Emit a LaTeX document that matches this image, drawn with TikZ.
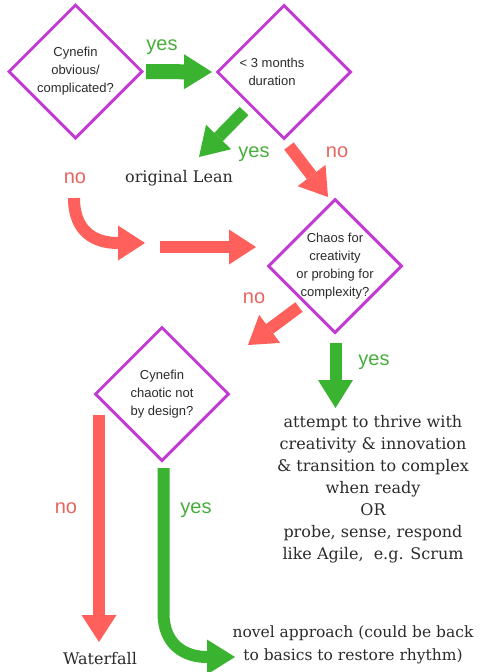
\documentclass[tikz,border=0pt]{standalone}
\usepackage{fontspec}
\setmainfont{DejaVu Serif}
\setsansfont{Liberation Sans}
\usetikzlibrary{arrows.meta,shapes.geometric}
\definecolor{cfpurple}{HTML}{C23BD2}
\definecolor{cfgreen}{HTML}{3AB430}
\definecolor{cfred}{HTML}{FF605B}
\definecolor{cfgreentxt}{HTML}{47AE3C}
\definecolor{cfredtxt}{HTML}{E8645E}
\definecolor{cfink}{HTML}{2B2B2B}

\begin{document}
\begin{tikzpicture}[x=1pt,y=-1pt,
    dia/.style={diamond,aspect=1,draw=cfpurple,line width=3pt,minimum width=134pt,minimum height=134pt,inner sep=0pt},
    qtxt/.style={align=center,inner sep=0pt,text=cfink,font=\sffamily\fontsize{13}{18}\selectfont},
    outc/.style={align=center,inner sep=0pt,text=cfink,font=\fontsize{16}{22}\selectfont},
    ylab/.style={anchor=base,inner sep=0pt,text=cfgreentxt,font=\sffamily\fontsize{20}{24}\selectfont},
    nlab/.style={anchor=base,inner sep=0pt,text=cfredtxt,font=\sffamily\fontsize{20}{24}\selectfont},
    garr/.style={cfgreen,line width=12pt,-{Triangle[length=28pt,width=35pt,line width=0pt]}},
    rarr/.style={cfred,line width=12pt,-{Triangle[length=27pt,width=35pt,line width=0pt]}}]
  \useasboundingbox[fill=white] (0,0) rectangle (480,672);

  % decisions
  \node[dia] (d1) at (75.5,71.5) {};
  \node[dia] (d2) at (284,72) {};
  \node[dia] (d3) at (335,266) {};
  \node[dia] (d4) at (162,394) {};
  \node[qtxt] (q1) at (d1) {Cynefin\\obvious/\\complicated?};
  \node[qtxt] (q2) at (272,72) {< 3 months\\duration};
  \node[qtxt] (q3) at (d3) {Chaos for\\creativity\\or probing for\\complexity?};
  \node[qtxt] (q4) at (d4) {Cynefin\\chaotic not\\by design?};

  % outcomes
  \node[outc,anchor=base] (lean) at (179,182) {original Lean};
  \node[outc,anchor=north] (thrive) at (373,415) {attempt to thrive with\\creativity \& innovation\\\& transition to complex\\when ready\\OR\\probe, sense, respond\\like Agile,\ \ e.g. Scrum};
  \node[outc,anchor=base] (water) at (100,664) {Waterfall};
  \node[outc,anchor=north,font=\fontsize{15.5}{23}\selectfont] (novel) at (353,626) {novel approach (could be back\\to basics to restore rhythm)};

  % arrow ends
  \coordinate (y2s) at (244,111);  \coordinate (y2e) at (199,157);
  \coordinate (n2s) at (289,146);  \coordinate (n2e) at (328,197);
  \coordinate (n1s) at (74,198);   \coordinate (n1e) at (145,243);
  \coordinate (n1bs) at (160,247); \coordinate (n1be) at (256,247);
  \coordinate (n3s) at (299,307);  \coordinate (n3e) at (248,345);
  \coordinate (y3s) at (335.5,343); \coordinate (y3e) at (335.5,408);
  \coordinate (n4s) at (99,415);   \coordinate (n4e) at (99,642);
  \coordinate (y4s) at (163.5,468); \coordinate (y4e) at (235,657);

  \draw[garr,line width=15pt,shorten <=2pt,shorten >=3.5pt] (d1.east) -- (d2.west);
  \draw[garr] (y2s) -- (y2e);
  \draw[rarr] (n2s) -- (n2e);
  \draw[rarr] (n1s) .. controls (74,232) and (95,243) .. (n1e);
  \draw[rarr] (n1bs) -- (n1be);
  \draw[rarr] (n3s) -- (n3e);
  \draw[garr] (y3s) -- (y3e);
  \draw[rarr] (n4s) -- (n4e);
  \draw[garr] (y4s) -- (163.5,613) .. controls (163.5,645) and (185,657) .. (y4e);

  % branch labels
  \node[ylab] (yes1) at (162,50) {yes};
  \node[ylab] (yes2) at (254,157) {yes};
  \node[nlab] (no2) at (337,157) {no};
  \node[nlab] (no1) at (75,183) {no};
  \node[nlab] (no3) at (254,303) {no};
  \node[ylab] (yes3) at (374,365) {yes};
  \node[nlab] (no4) at (66,513) {no};
  \node[ylab] (yes4) at (196,513) {yes};
\end{tikzpicture}
\end{document}
